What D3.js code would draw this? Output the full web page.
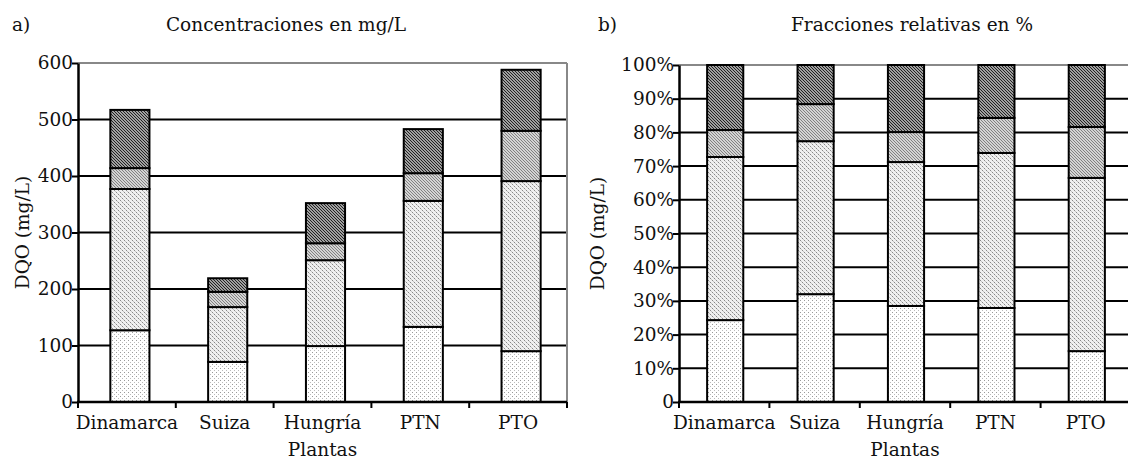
<!DOCTYPE html>
<html>
<head>
<meta charset="utf-8">
<script src="https://cdn.jsdelivr.net/npm/d3@7"></script>
<style>
  body { margin: 0; background: #fff; }
  svg text { font-family: "DejaVu Serif", "Liberation Serif", serif !important; fill: #111; }
</style>
</head>
<body>
<div id="chart"></div>
<script>
// data
var plantas = ["Dinamarca", "Suiza", "Hungría", "PTN", "PTO"];

// a) concentraciones mg/L, from bottom segment to top segment
var concCapa1 = [127, 71, 99, 133, 90];
var concCapa2 = [250, 97, 152, 223, 301];
var concCapa3 = [37, 27, 30, 49, 89];
var concCapa4 = [103, 24, 71, 78, 108];
var concTicks = [0, 100, 200, 300, 400, 500, 600];

// b) fracciones relativas %
var pctCapa1 = [24.3, 32.0, 28.5, 27.9, 15.1];
var pctCapa2 = [48.4, 45.4, 42.7, 46.0, 51.4];
var pctCapa3 = [8.0, 11.0, 8.9, 10.4, 15.1];
var pctCapa4 = [19.3, 11.6, 19.9, 15.7, 18.4];
var pctTicks = [0, 10, 20, 30, 40, 50, 60, 70, 80, 90, 100];

var W = 1128, H = 462;
var FS = "18.5px";

var svg = d3.select("#chart")
  .append("svg")
    .attr("width", W)
    .attr("height", H);

// fill patterns
var defs = svg.append("defs");

// sparse dots (bottom)
var p1 = defs.append("pattern").attr("id", "pat1")
  .attr("width", 4).attr("height", 4).attr("patternUnits", "userSpaceOnUse");
p1.append("rect").attr("width", 4).attr("height", 4).attr("fill", "#fff");
p1.append("rect").attr("x", 0).attr("y", 0).attr("width", 1).attr("height", 1).attr("fill", "#999");
p1.append("rect").attr("x", 2).attr("y", 2).attr("width", 1).attr("height", 1).attr("fill", "#bbb");

// dense dots
var p2 = defs.append("pattern").attr("id", "pat2")
  .attr("width", 4).attr("height", 4).attr("patternUnits", "userSpaceOnUse");
p2.append("rect").attr("width", 4).attr("height", 4).attr("fill", "#f0f0f0");
p2.append("rect").attr("x", 0).attr("y", 0).attr("width", 1).attr("height", 1).attr("fill", "#888");
p2.append("rect").attr("x", 2).attr("y", 2).attr("width", 1).attr("height", 1).attr("fill", "#888");
p2.append("rect").attr("x", 1).attr("y", 1).attr("width", 1).attr("height", 1).attr("fill", "#c4c4c4");
p2.append("rect").attr("x", 3).attr("y", 3).attr("width", 1).attr("height", 1).attr("fill", "#c4c4c4");

// light diagonal hatch
var p3 = defs.append("pattern").attr("id", "pat3")
  .attr("width", 3).attr("height", 3).attr("patternUnits", "userSpaceOnUse");
p3.append("rect").attr("width", 3).attr("height", 3).attr("fill", "#d4d4d4");
p3.append("path").attr("d", "M0,0 L3,3 M-1,2 L1,4 M2,-1 L4,1")
  .attr("stroke", "#777").attr("stroke-width", 0.9);

// dark diagonal hatch
var p4 = defs.append("pattern").attr("id", "pat4")
  .attr("width", 3).attr("height", 3).attr("patternUnits", "userSpaceOnUse");
p4.append("rect").attr("width", 3).attr("height", 3).attr("fill", "#a0a0a0");
p4.append("path").attr("d", "M0,0 L3,3 M-1,2 L1,4 M2,-1 L4,1")
  .attr("stroke", "#222").attr("stroke-width", 1);

var fills = ["url(#pat1)", "url(#pat2)", "url(#pat3)", "url(#pat4)"];

function drawPanel(opt) {
  var rows = plantas.map(function(p, i) {
    return { planta: p, c1: opt.capas[0][i], c2: opt.capas[1][i], c3: opt.capas[2][i], c4: opt.capas[3][i] };
  });
  var series = d3.stack().keys(["c1", "c2", "c3", "c4"])(rows);

  var x = d3.scaleBand()
    .domain(plantas)
    .range([opt.left, opt.right])
    .paddingInner(0.6)
    .paddingOuter(0.3);

  var y = d3.scaleLinear()
    .domain([0, opt.max])
    .range([opt.bottom, opt.top]);

  var g = svg.append("g");

  // gridlines
  g.selectAll(".grid")
    .data(opt.ticks.slice(1, -1))
    .enter().append("line")
      .attr("x1", opt.left).attr("x2", opt.gridEnd)
      .attr("y1", function(d) { return y(d); })
      .attr("y2", function(d) { return y(d); })
      .attr("stroke", "#000").attr("stroke-width", 2);

  // gray frame top / right
  g.append("line")
    .attr("x1", opt.left).attr("x2", opt.gridEnd)
    .attr("y1", y(opt.max)).attr("y2", y(opt.max))
    .attr("stroke", "#888").attr("stroke-width", 2);
  if (opt.frameRight) {
    g.append("line")
      .attr("x1", opt.right).attr("x2", opt.right)
      .attr("y1", y(opt.max)).attr("y2", y(0))
      .attr("stroke", "#888").attr("stroke-width", 2);
  }

  // stacked bars
  g.selectAll(".capa")
    .data(series)
    .enter().append("g")
      .attr("fill", function(d, i) { return fills[i]; })
    .selectAll("rect")
    .data(function(d) { return d; })
    .enter().append("rect")
      .attr("x", function(d) { return x(d.data.planta) + opt.shift; })
      .attr("y", function(d) { return y(d[1]); })
      .attr("width", x.bandwidth())
      .attr("height", function(d) { return y(d[0]) - y(d[1]); })
      .attr("stroke", "#000")
      .attr("stroke-width", 2);

  // y axis
  var yAxis = g.append("g")
    .attr("transform", "translate(" + opt.left + ",0)")
    .call(d3.axisLeft(y).tickValues(opt.ticks).tickSize(6).tickSizeOuter(0).tickFormat(opt.fmt));
  yAxis.select(".domain").attr("stroke", "#000").attr("stroke-width", 2.5);
  yAxis.selectAll(".tick line").attr("stroke", "#000").attr("stroke-width", 2);
  yAxis.selectAll(".tick text")
    .attr("x", -5)
    .style("font-size", FS)
    .attr("fill", "#111");

  // x axis line and band ticks
  g.append("line")
    .attr("x1", opt.left - 1).attr("x2", opt.right)
    .attr("y1", y(0)).attr("y2", y(0))
    .attr("stroke", "#000").attr("stroke-width", 2.5);
  var edges = d3.range(plantas.length + 1).map(function(i) { return opt.left + i * x.step(); });
  g.selectAll(".xt")
    .data(edges)
    .enter().append("line")
      .attr("x1", function(d) { return d; }).attr("x2", function(d) { return d; })
      .attr("y1", y(0)).attr("y2", y(0) + 6)
      .attr("stroke", "#000").attr("stroke-width", 2);

  // category labels
  g.selectAll(".xl")
    .data(plantas)
    .enter().append("text")
      .attr("x", function(d) { return x(d) + x.bandwidth() / 2; })
      .attr("y", opt.bottom + 27)
      .attr("text-anchor", "middle")
      .style("font-size", FS)
      .text(function(d) { return d; });

  // axis titles
  g.append("text")
    .attr("x", (opt.left + opt.right) / 2)
    .attr("y", opt.bottom + 54)
    .attr("text-anchor", "middle")
    .style("font-size", FS)
    .text("Plantas");

  g.append("text")
    .attr("transform", "translate(" + opt.yTitleX + "," + ((opt.top + opt.bottom) / 2) + ") rotate(-90)")
    .attr("text-anchor", "middle")
    .style("font-size", FS)
    .text("DQO (mg/L)");

  // panel title
  g.append("text")
    .attr("x", opt.letterX).attr("y", 31)
    .style("font-size", FS)
    .text(opt.letter);
  g.append("text")
    .attr("x", opt.titleX).attr("y", 31)
    .attr("text-anchor", "middle")
    .style("font-size", FS)
    .text(opt.title);
}

drawPanel({
  capas: [concCapa1, concCapa2, concCapa3, concCapa4],
  ticks: concTicks, max: 600,
  left: 78, right: 567, gridEnd: 567, top: 63, bottom: 402,
  frameRight: true, shift: 3,
  fmt: function(d) { return d; },
  yTitleX: 29, letter: "a)", letterX: 12,
  title: "Concentraciones en mg/L", titleX: 286
});

drawPanel({
  capas: [pctCapa1, pctCapa2, pctCapa3, pctCapa4],
  ticks: pctTicks, max: 100,
  left: 679, right: 1131, gridEnd: 1128, top: 65, bottom: 402,
  frameRight: false, shift: 1,
  fmt: function(d) { return d === 0 ? "0" : d + "%"; },
  yTitleX: 604, letter: "b)", letterX: 598,
  title: "Fracciones relativas en %", titleX: 912
});
</script>
</body>
</html>
